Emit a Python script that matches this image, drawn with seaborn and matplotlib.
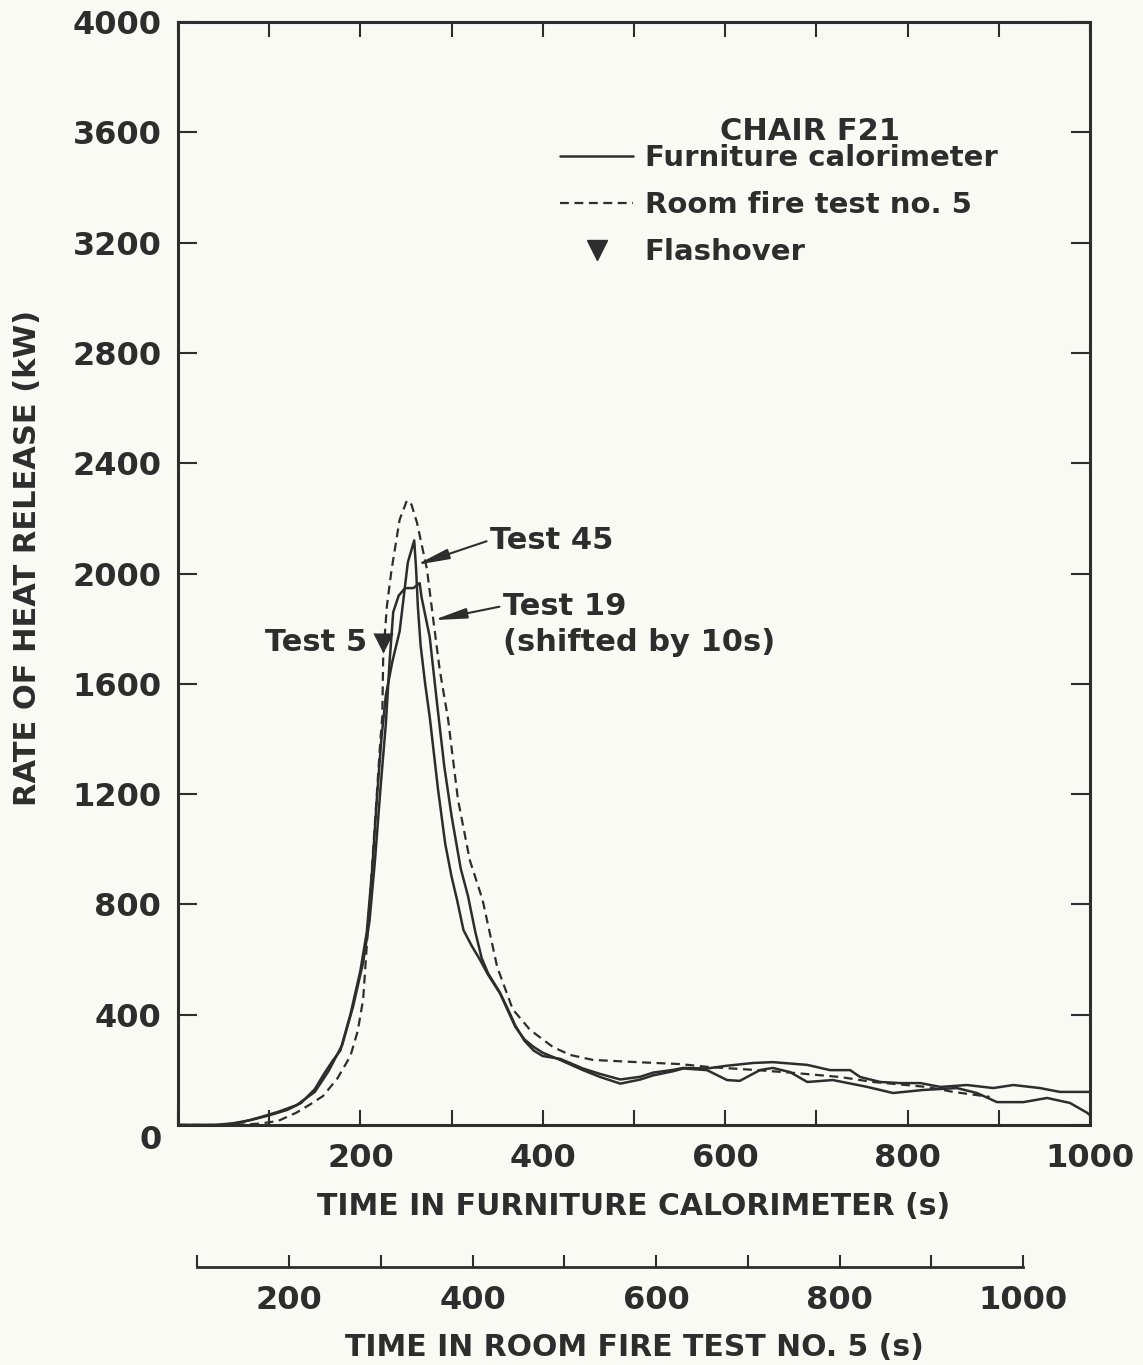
import matplotlib
matplotlib.use("Agg")
import matplotlib.pyplot as plt
from matplotlib.lines import Line2D
from matplotlib.ticker import MultipleLocator
import seaborn as sns

# Furniture calorimeter, test 45
t45 = [0, 40, 60, 80, 100, 120, 135, 150, 160, 170, 178, 189, 200, 207, 213, 218,
       223, 228, 235, 243, 252, 259, 261, 263, 266, 271, 276, 285, 293, 300, 306,
       313, 322, 331, 340, 353, 361, 370, 380, 390, 400, 419, 444, 463, 485, 507,
       521, 543, 554, 580, 602, 616, 638, 652, 671, 690, 718, 756, 784, 817, 854,
       876, 898, 927, 953, 978, 997, 1000]
q45 = [0, 0, 6, 18, 35, 55, 80, 130, 185, 235, 270, 400, 560, 700, 930, 1180,
       1400, 1560, 1680, 1790, 2040, 2120, 2020, 1880, 1740, 1600, 1480, 1220, 1020, 900, 816,
       707, 650, 600, 545, 478, 420, 355, 310, 283, 262, 236, 199, 174, 150, 165,
       180, 195, 205, 199, 163, 160, 199, 207, 192, 156, 163, 138, 116, 127, 134,
       116, 83, 83, 98, 80, 44, 35]

# Furniture calorimeter, test 19 (shifted by 10 s)
t19 = [0, 50, 70, 90, 110, 130, 150, 165, 180, 192, 203, 210, 216, 222, 228, 232,
       236, 242, 249, 258, 265, 267, 276, 284, 292, 300, 310, 318, 326, 333, 340,
       353, 361, 370, 380, 390, 400, 419, 444, 463, 485, 507, 521, 543, 554, 580,
       602, 631, 652, 690, 715, 737, 748, 770, 792, 814, 836, 865, 894, 916, 945,
       967, 1000]
q19 = [0, 0, 10, 28, 48, 72, 120, 195, 290, 430, 590, 740, 960, 1220, 1460, 1680,
       1860, 1920, 1947, 1947, 1965, 1915, 1770, 1530, 1300, 1120, 930, 830, 700, 605, 550,
       480, 425, 360, 305, 270, 250, 240, 205, 185, 165, 175, 190, 200, 207, 205,
       215, 225, 228, 218, 199, 199, 174, 156, 152, 152, 138, 145, 134, 145, 134,
       120, 120]

# Room fire test no. 5
t_room = [0, 60, 90, 110, 130, 145, 159, 175, 189, 197, 203, 207, 211, 215, 219,
          222, 224, 225, 229, 234, 243, 251, 256, 262, 273, 280, 287, 296, 307, 320,
          334, 350, 367, 386, 411, 430, 455, 503, 550, 583, 631, 675, 726, 762, 821,
          850, 890]
q_room = [0, 0, 5, 15, 45, 75, 105, 170, 250, 340, 455, 650, 850, 1050, 1250,
          1400, 1480, 1700, 1880, 2010, 2195, 2265, 2250, 2185, 2015, 1830, 1650, 1475, 1180, 960,
          816, 573, 420, 345, 283, 254, 236, 228, 221, 210, 200, 189, 174, 156, 138,
          120, 102]

# Flashover in test 5
flash_t = [225]
flash_q = [1748]

x_ticks = [200, 400, 600, 800, 1000]
y_ticks = [0, 400, 800, 1200, 1600, 2000, 2400, 2800, 3200, 3600, 4000]
room_ticks = [200, 400, 600, 800, 1000]

ink = "#2d2d2d"
bg = "#fafaf5"
dash = (0, (4, 2.5))

sns.set_style("ticks")
plt.rcParams["font.family"] = ["DejaVu Sans"]
plt.rcParams["font.weight"] = "bold"
plt.rcParams["text.color"] = ink

fig = plt.figure(figsize=(11.43, 13.65), dpi=100, facecolor=bg)
ax = fig.add_axes([178 / 1143, 1 - 1125 / 1365, 912 / 1143, 1103 / 1365])
ax.set_facecolor(bg)

sns.lineplot(x=t45, y=q45, ax=ax, color=ink, lw=1.8)
sns.lineplot(x=t19, y=q19, ax=ax, color=ink, lw=1.8)
sns.lineplot(x=t_room, y=q_room, ax=ax, color=ink, lw=1.6, linestyle=dash)
sns.scatterplot(x=flash_t, y=flash_q, ax=ax, marker="v", s=210, color=ink, linewidth=0)

ax.set_xlim(0, 1000)
ax.set_ylim(0, 4000)
ax.set_xticks(x_ticks, labels=[str(v) for v in x_ticks])
ax.xaxis.set_minor_locator(MultipleLocator(100))
ax.set_yticks(y_ticks, labels=[str(v) for v in y_ticks])
ax.tick_params(axis="x", which="both", direction="in", top=True, bottom=True,
               length=11, width=1.5, pad=13, labelsize=23, color=ink, labelcolor=ink)
ax.tick_params(axis="y", which="both", direction="in", left=True, right=True,
               length=14, width=1.5, pad=12, labelsize=23, color=ink, labelcolor=ink)
for lab in ax.get_yticklabels():
    if lab.get_text() == "0":
        lab.set_va("top")
for s in ax.spines.values():
    s.set_linewidth(2.2)
    s.set_color(ink)

ax.set_xlabel("TIME IN FURNITURE CALORIMETER (s)", fontsize=21.5, weight="bold",
              color=ink, labelpad=13)
ax.set_ylabel("RATE OF HEAT RELEASE (kW)", fontsize=22, weight="bold", color=ink)
ax.yaxis.set_label_coords(-0.149, 0.514)

# legend
ax.text(0.693, 0.901, "CHAIR F21", transform=ax.transAxes, ha="center", va="center",
        fontsize=22, weight="bold")
handles = [Line2D([], [], color=ink, lw=1.8),
           Line2D([], [], color=ink, lw=1.6, linestyle=dash),
           Line2D([], [], color=ink, marker="v", ms=14, linestyle="none")]
labels = ["Furniture calorimeter", "Room fire test no. 5", "Flashover"]
ax.legend(handles, labels, loc="upper left", bbox_to_anchor=(0.419, 0.889),
          frameon=False, prop={"size": 21, "weight": "bold"}, handlelength=2.5,
          handletextpad=0.4, labelspacing=0.65, borderpad=0, borderaxespad=0)

# annotations
arrow = dict(arrowstyle="-|>,head_length=0.9,head_width=0.14", color=ink, lw=1.5,
             shrinkA=0, shrinkB=0, relpos=(0, 0.5))
ax.annotate("Test 45", xy=(261, 2031), xytext=(342, 2121), ha="left", va="center",
            fontsize=22, weight="bold", arrowprops=arrow)
ax.annotate("Test 19", xy=(280, 1831), xytext=(356, 1882), ha="left", va="center",
            fontsize=22, weight="bold", arrowprops=arrow)
ax.text(356, 1748, "(shifted by 10s)", ha="left", va="center", fontsize=22, weight="bold")
ax.text(207, 1748, "Test 5", ha="right", va="center", fontsize=22, weight="bold")

# second time axis for the room fire test
ax2 = fig.add_axes([178 / 1143, 1 - 1267 / 1365, 912 / 1143, 0.0001])
ax2.set_facecolor("none")
ax2.set_xlim(79, 1073)
ax2.set_yticks([])
for side in ["top", "left", "right"]:
    ax2.spines[side].set_visible(False)
ax2.spines["bottom"].set_bounds(100, 1000)
ax2.spines["bottom"].set_linewidth(2.0)
ax2.spines["bottom"].set_color(ink)
ax2.set_xticks(room_ticks, labels=[str(v) for v in room_ticks])
ax2.xaxis.set_minor_locator(MultipleLocator(100))
ax2.tick_params(axis="x", which="both", direction="in", length=9, width=1.5, pad=13,
                labelsize=23, color=ink, labelcolor=ink)
ax2.set_xlabel("TIME IN ROOM FIRE TEST NO. 5 (s)", fontsize=21.5, weight="bold",
               color=ink, labelpad=12)

fig.savefig("out.png", dpi=100, facecolor=bg)
